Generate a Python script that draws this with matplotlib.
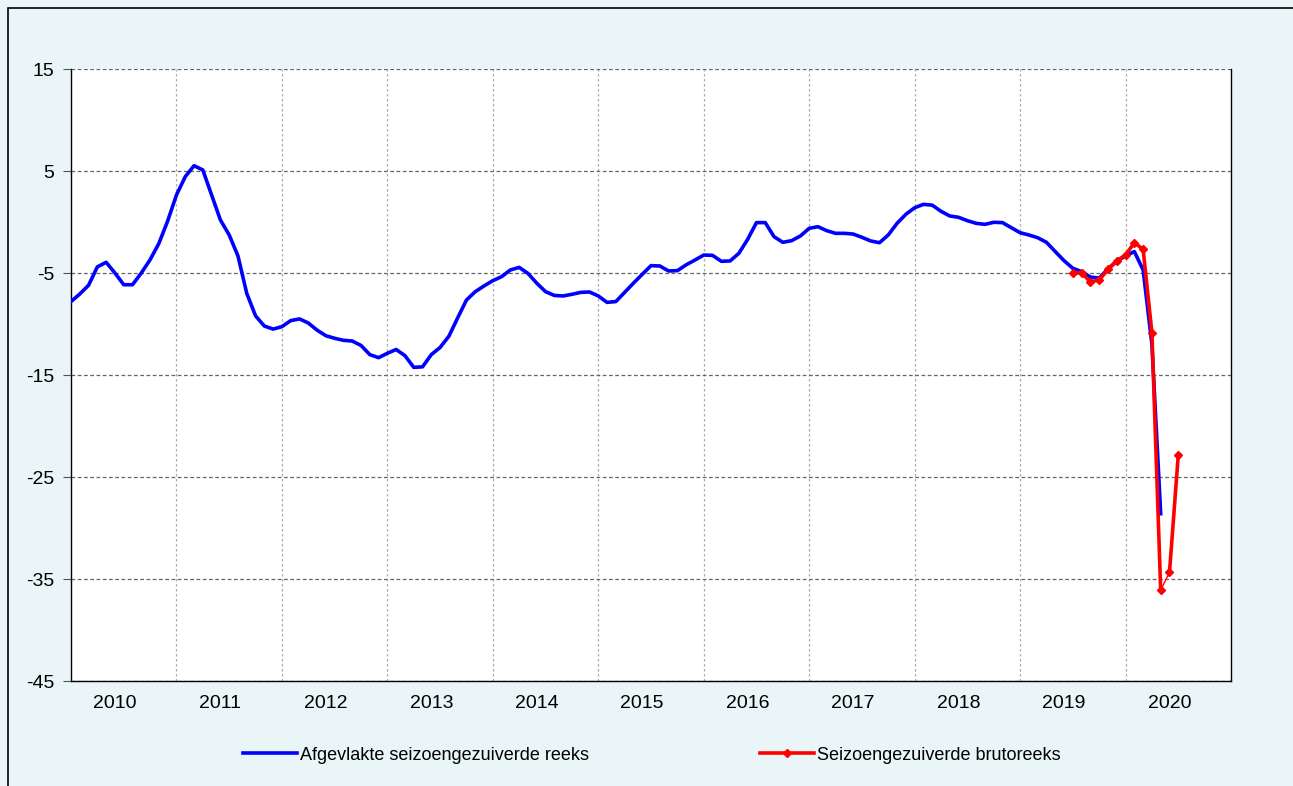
import numpy as np
import matplotlib.pyplot as plt
from matplotlib.patches import Rectangle

plt.rcParams['font.family'] = ['Liberation Sans', 'DejaVu Sans']

# monthly values, Jan 2010 .. May 2020
smoothed = [
    -7.8, -7.06, -6.2, -4.4, -3.95, -5.0, -6.15, -6.15, -5.0, -3.7, -2.1, 0.1,
    2.65, 4.44, 5.52, 5.1, 2.65, 0.2, -1.27, -3.33, -7.0, -9.2, -10.2, -10.5,
    -10.26, -9.67, -9.5, -9.9, -10.6, -11.15, -11.4, -11.6, -11.67, -12.1, -13.0, -13.3,
    -12.87, -12.5, -13.1, -14.25, -14.2, -13.0, -12.3, -11.2, -9.4, -7.65, -6.83, -6.27,
    -5.75, -5.36, -4.7, -4.45, -5.04, -6.0, -6.83, -7.2, -7.25, -7.09, -6.9, -6.86,
    -7.25, -7.88, -7.8, -6.9, -6.0, -5.13, -4.28, -4.31, -4.8, -4.77, -4.2, -3.73,
    -3.24, -3.27, -3.85, -3.82, -3.07, -1.7, -0.06, -0.06, -1.44, -1.99, -1.83, -1.37,
    -0.62, -0.46, -0.85, -1.11, -1.11, -1.18, -1.5, -1.86, -2.03, -1.27, -0.13, 0.75,
    1.4, 1.73, 1.65, 1.05, 0.59, 0.46, 0.13, -0.13, -0.23, -0.03, -0.06, -0.56,
    -1.05, -1.27, -1.54, -1.99, -2.9, -3.79, -4.54, -4.86, -5.4, -5.5, -4.6, -3.85,
    -3.33, -2.9, -4.7, -12.0, -28.6,
]
# monthly values, Jul 2019 .. Jul 2020
raw_start = 114
raw = [-4.96, -5.0, -5.85, -5.7, -4.64, -3.79, -3.24, -2.03, -2.68, -10.85,
       -36.1, -34.35, -22.84]
years = list(range(2010, 2021))
yticks = [15, 5, -5, -15, -25, -35, -45]

x_s = 2010 + np.arange(len(smoothed)) / 12
x_r = 2010 + (raw_start + np.arange(len(raw))) / 12

bg = '#E9F5F7'
fig = plt.figure(figsize=(12.93, 7.86), dpi=100, facecolor=bg)
fig.patches.append(Rectangle((8 / 1293, -0.1), 1.2, 1 - 8 / 786 + 0.1,
                             transform=fig.transFigure, fill=False,
                             edgecolor='black', linewidth=1.2))
ax = fig.add_axes([71 / 1293, 1 - 681 / 786, 1160 / 1293, 612 / 786])
ax.set_facecolor('white')

blue, = ax.plot(x_s, smoothed, color='#0000FF', linewidth=2.6, zorder=3)
# raw series: thick line with diamond markers, one thin segment
r = np.array(raw)
red, = ax.plot(x_r[:11], r[:11], color='#FF0000', linewidth=2.6, marker='D',
               markersize=4, zorder=4)
ax.plot(x_r[10:12], r[10:12], color='#FF0000', linewidth=1.0, zorder=4)
ax.plot(x_r[11:], r[11:], color='#FF0000', linewidth=2.6, marker='D',
        markersize=4, zorder=4)

ax.set_xlim(2010, 2021)
ax.set_ylim(-45, 15)
ax.set_yticks(yticks)
ax.set_yticklabels([str(v) for v in yticks], fontsize=14)
ax.set_xticks([y + 5 / 12 for y in years])
ax.set_xticklabels([str(y) for y in years], fontsize=14)
ax.set_xticks(years[1:], minor=True)
ax.tick_params(axis='x', which='both', length=0, pad=10)
ax.tick_params(axis='y', length=6, color='#555555', pad=6)

ax.grid(axis='y', linestyle=(0, (3, 2)), color='#666666', linewidth=0.9)
ax.grid(axis='x', which='minor', linestyle=(0, (2, 2)), color='#AAAAAA',
        linewidth=0.9)
ax.set_axisbelow(True)
ax.spines['top'].set_visible(False)
for s in ['left', 'bottom', 'right']:
    ax.spines[s].set_color('black')
    ax.spines[s].set_linewidth(1.0)

leg_kw = dict(loc='center left', frameon=False, fontsize=13, handlelength=3,
              handletextpad=0.15, borderpad=0, borderaxespad=0,
              bbox_transform=fig.transFigure)
leg1 = fig.legend([blue], ['Afgevlakte seizoengezuiverde reeks'],
                  bbox_to_anchor=(243 / 1293, 1 - 755 / 786), **leg_kw)
leg2 = fig.legend([red], ['Seizoengezuiverde brutoreeks'],
                  bbox_to_anchor=(760 / 1293, 1 - 755 / 786), **leg_kw)

fig.savefig('out.png', dpi=100, facecolor=bg)
